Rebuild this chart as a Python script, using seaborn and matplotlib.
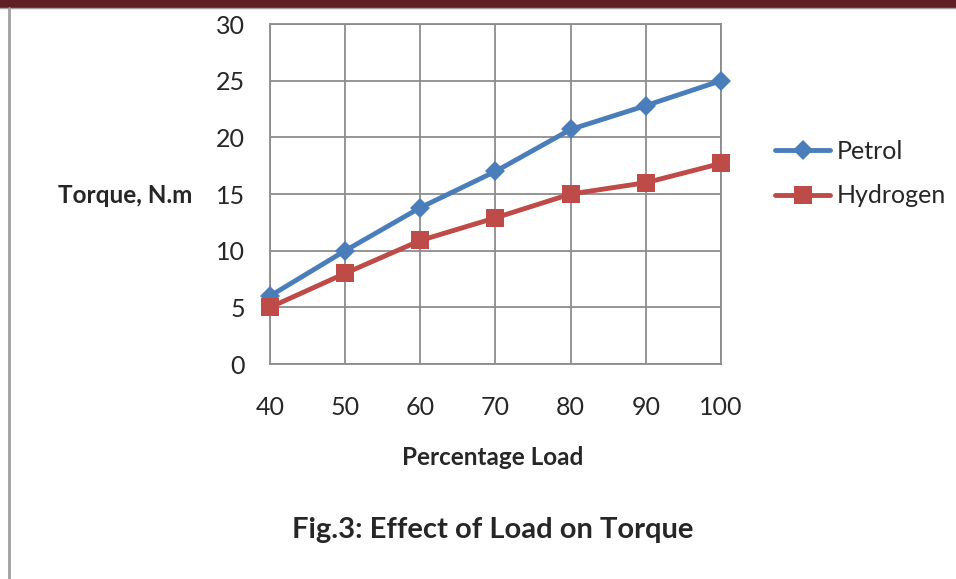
import matplotlib
matplotlib.use("Agg")
import matplotlib.pyplot as plt
import pandas as pd
import seaborn as sns
from matplotlib.lines import Line2D

load = [40, 50, 60, 70, 80, 90, 100]
petrol = [6, 10, 13.8, 17, 20.7, 22.8, 25]
hydrogen = [5, 8, 10.9, 12.9, 15, 16, 17.7]

df = pd.DataFrame({
    "load": load * 2,
    "torque": petrol + hydrogen,
    "fuel": ["Petrol"] * len(load) + ["Hydrogen"] * len(load),
})

sns.set_style("white")
plt.rcParams["font.family"] = ["Lato", "DejaVu Sans"]

fig = plt.figure(figsize=(9.56, 5.79), dpi=100)
ax = fig.add_axes([0.2824, 0.3713, 0.4718, 0.5872])

colors = {"Petrol": "#4a7ebb", "Hydrogen": "#be4b48"}
sns.lineplot(data=df, x="load", y="torque", hue="fuel", style="fuel",
             palette=colors, markers={"Petrol": "D", "Hydrogen": "s"},
             dashes=False, markersize=13, linewidth=3.5, markeredgewidth=0,
             ax=ax, legend=False, clip_on=False, zorder=3)
# diamond drawn a bit smaller than the square
for ln in ax.lines:
    if ln.get_marker() == "D":
        ln.set_markersize(10)

ax.set_xlim(40, 100)
ax.set_ylim(0, 30)
ax.set_xticks(load)
ax.set_yticks(range(0, 31, 5))
ax.grid(True, color="#8c8c8c", linewidth=1.3)
for s in ax.spines.values():
    s.set_color("#8c8c8c")
    s.set_linewidth(1.3)
ax.tick_params(axis="both", length=6, width=1.3, color="#8c8c8c",
               labelsize=18, direction="out")
ax.tick_params(axis="x", pad=17)
ax.tick_params(axis="y", pad=12)
ax.set_xlabel("")
ax.set_ylabel("")

fig.text(0.131, 0.663, "Torque, N.m", ha="center", va="center",
         fontsize=17.5, fontweight="bold")
fig.text(0.515, 0.209, "Percentage Load", ha="center", va="center",
         fontsize=17.5, fontweight="bold")
fig.text(0.515, 0.085, "Fig.3: Effect of Load on Torque", ha="center",
         va="center", fontsize=21, fontweight="bold")

handles = [
    Line2D([], [], color=colors["Petrol"], marker="D", markersize=10,
           linewidth=3.5, markeredgewidth=0),
    Line2D([], [], color=colors["Hydrogen"], marker="s", markersize=13,
           linewidth=3.5, markeredgewidth=0),
]
fig.legend(handles, ["Petrol", "Hydrogen"], loc="center left",
           bbox_to_anchor=(0.8107, 0.700), frameon=False, fontsize=18,
           borderpad=0, borderaxespad=0,
           handlelength=2.2, handletextpad=0.25, labelspacing=0.85)

# page decorations: dark band on top, thin border lines
fig.add_artist(plt.Rectangle((0, 0.988), 1, 0.012, transform=fig.transFigure,
                             color="#5e2024", zorder=0))
fig.add_artist(Line2D([0, 1], [0.986, 0.986], transform=fig.transFigure,
                      color="#a0a0a0", linewidth=1))
fig.add_artist(Line2D([0.0095, 0.0095], [0, 0.986], transform=fig.transFigure,
                      color="#a0a0a0", linewidth=2))

fig.savefig("out.png", dpi=100)
